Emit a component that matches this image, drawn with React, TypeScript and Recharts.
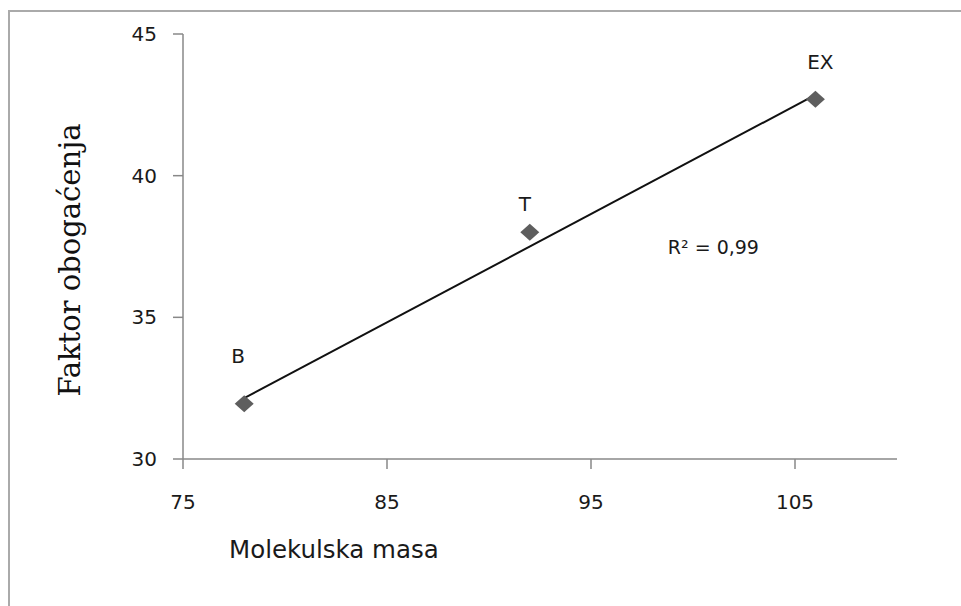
import React from 'react';
import { ScatterChart, Scatter, XAxis, YAxis, ReferenceDot } from 'recharts';

// Data
const compoundNames = ['B', 'T', 'EX'];
const molecularMass = [78, 92, 106];
const enrichmentFactor = [31.95, 38.0, 42.7];

const trendX = [78, 106];
const trendY = [32.15, 42.85];

const xTicks = [75, 85, 95, 105];
const yTicks = [30, 35, 40, 45];

const rSquaredText = 'R² = 0,99';
const rSquaredAt = { x: 101.0, y: 37.48 };

const points = compoundNames.map((name, i) => ({ name, x: molecularMass[i], y: enrichmentFactor[i] }));
const trend = trendX.map((x, i) => ({ x, y: trendY[i] }));

// label offsets (styling) relative to marker centre
const labelOffsets: Record<string, [number, number]> = {
  B: [-6, -48],
  T: [-5, -28],
  EX: [5, -37],
};

const SANS = '"DejaVu Sans", sans-serif';
const SERIF = '"DejaVu Serif", serif';

const Diamond = (props: any) => {
  const { cx, cy, payload } = props;
  if (cx == null || cy == null) return <g />;
  const hw = 9.5;
  const hh = 8.5;
  const off = labelOffsets[payload?.name] || [0, -30];
  return (
    <g>
      <polygon
        points={`${cx},${cy - hh} ${cx + hw},${cy} ${cx},${cy + hh} ${cx - hw},${cy}`}
        fill="#5e5e5e"
      />
      <text
        x={cx + off[0]}
        y={cy + off[1]}
        textAnchor="middle"
        dominantBaseline="central"
        fontFamily={SANS}
        fontSize={20}
        fill="#1a1a1a"
      >
        {payload?.name}
      </text>
    </g>
  );
};

const NoShape = () => <g />;

const XTitle = (props: any) => {
  const vb = props.viewBox || { x: 183, y: 459 };
  return (
    <text x={vb.x + 46} y={vb.y + 99} textAnchor="start" fontFamily={SANS} fontSize={24.5} fill="#1a1a1a">
      Molekulska masa
    </text>
  );
};

const YTitle = () => {
  const x = 80;
  const y = 260;
  return (
    <text
      x={x}
      y={y}
      transform={`rotate(-90, ${x}, ${y})`}
      textAnchor="middle"
      fontFamily={SERIF}
      fontSize={29}
      fill="#111"
    >
      Faktor obogaćenja
    </text>
  );
};

const RSquared = (props: any) => {
  const { cx, cy } = props;
  return (
    <text x={cx} y={cy} textAnchor="middle" dominantBaseline="central" fontFamily={SANS} fontSize={19} fill="#1a1a1a">
      {rSquaredText}
    </text>
  );
};

export default function App() {
  return (
    <div style={{ position: 'absolute', left: 0, top: 0, width: 961, height: 606, background: '#fff', overflow: 'hidden' }}>
      <div
        style={{
          position: 'absolute',
          left: 8,
          top: 10,
          width: 960,
          height: 600,
          borderTop: '2px solid #aaaaaa',
          borderLeft: '2px solid #aaaaaa',
          boxSizing: 'border-box',
        }}
      />
      <div style={{ position: 'absolute', left: 0, top: 0 }}>
        <ScatterChart width={961} height={606} margin={{ top: 34, right: 64, bottom: 67, left: 123 }}>
          <XAxis
            type="number"
            dataKey="x"
            domain={[75, 110]}
            ticks={xTicks}
            allowDataOverflow
            stroke="#888"
            strokeWidth={1.5}
            tickSize={10}
            tickMargin={26}
            height={80}
            tick={{ fontFamily: SANS, fontSize: 20, fill: '#1a1a1a' }}
            tickLine={{ stroke: '#888' }}
            label={{ content: XTitle } as any}
          />
          <YAxis
            type="number"
            dataKey="y"
            domain={[30, 45]}
            ticks={yTicks}
            allowDataOverflow
            stroke="#888"
            strokeWidth={1.5}
            width={60}
            tickSize={10}
            tickMargin={16}
            tick={{ fontFamily: SANS, fontSize: 20, fill: '#1a1a1a' }}
            tickLine={{ stroke: '#888' }}
          />
          <Scatter
            data={trend}
            line={{ stroke: '#111', strokeWidth: 2 }}
            shape={NoShape}
            isAnimationActive={false}
          />
          <Scatter data={points} shape={Diamond} isAnimationActive={false} />
          <ReferenceDot x={rSquaredAt.x} y={rSquaredAt.y} r={0} shape={RSquared} ifOverflow="visible" />
        </ScatterChart>
      </div>
      <svg style={{ position: 'absolute', left: 0, top: 0, pointerEvents: 'none' }} width={961} height={606}>
        <YTitle />
      </svg>
    </div>
  );
}
